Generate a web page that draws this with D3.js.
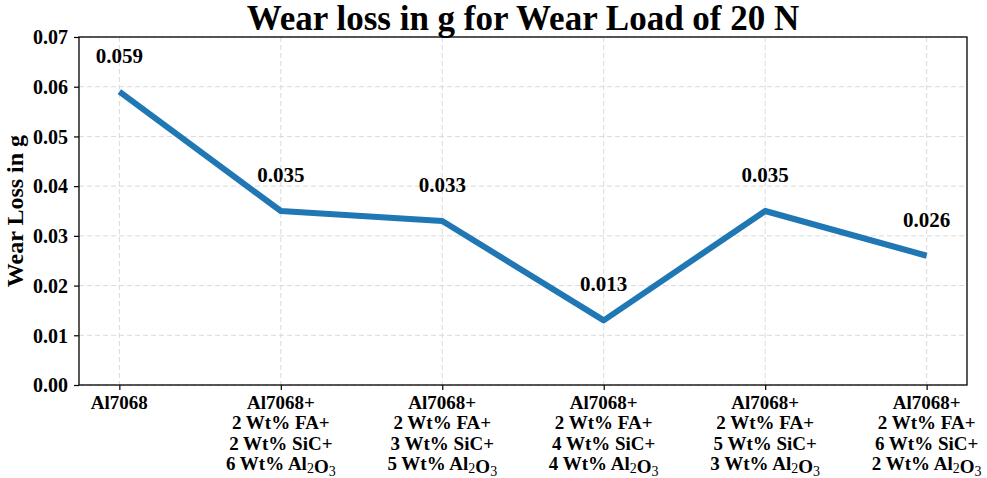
<!DOCTYPE html>
<html>
<head>
<meta charset="utf-8">
<script src="https://cdn.jsdelivr.net/npm/d3@7"></script>
<style>
  body { margin: 0; background: #fff; }
  text { font-family: 'Liberation Serif', 'Times New Roman', serif; font-weight: bold; fill: #000; }
  .grid line { stroke: #d0d0d0; stroke-dasharray: 5,3; stroke-width: 0.8; }
</style>
</head>
<body>
<svg id="chart"></svg>
<script>
// composition labels, one array of lines per sample ("_2" marks a subscript 2, "_3" a subscript 3)
var categories = [
  ["Al7068"],
  ["Al7068+", "2 Wt% FA+", "2 Wt% SiC+", "6 Wt% Al_2O_3"],
  ["Al7068+", "2 Wt% FA+", "3 Wt% SiC+", "5 Wt% Al_2O_3"],
  ["Al7068+", "2 Wt% FA+", "4 Wt% SiC+", "4 Wt% Al_2O_3"],
  ["Al7068+", "2 Wt% FA+", "5 Wt% SiC+", "3 Wt% Al_2O_3"],
  ["Al7068+", "2 Wt% FA+", "6 Wt% SiC+", "2 Wt% Al_2O_3"]
];
var wearLoss = [0.059, 0.035, 0.033, 0.013, 0.035, 0.026];
var yTicks = [0.00, 0.01, 0.02, 0.03, 0.04, 0.05, 0.06, 0.07];

var svgWidth = 987, svgHeight = 478;
var margin = { top: 37, right: 20, bottom: 93, left: 79 };
var chartWidth = svgWidth - margin.left - margin.right,
    chartHeight = svgHeight - margin.top - margin.bottom;

var svg = d3.select("#chart").attr("width", svgWidth).attr("height", svgHeight);
var g = svg.append("g").attr("transform", "translate(" + margin.left + "," + margin.top + ")");

var idx = d3.range(categories.length);
// matplotlib style 5% padding on the x range
var x = d3.scaleLinear().domain([-0.25, categories.length - 1 + 0.25]).range([0, chartWidth]);
var y = d3.scaleLinear().domain([0, 0.07]).range([chartHeight, 0]);

/* ---- grid ---- */
g.append("g").attr("class", "grid")
  .selectAll("line.v").data(idx).enter().append("line")
  .attr("x1", d => x(d)).attr("x2", d => x(d))
  .attr("y1", 0).attr("y2", chartHeight);
g.append("g").attr("class", "grid")
  .selectAll("line.h").data(yTicks).enter().append("line")
  .attr("x1", 0).attr("x2", chartWidth)
  .attr("y1", d => y(d)).attr("y2", d => y(d));

/* ---- axes ---- */
var yAxis = g.append("g")
  .call(d3.axisLeft(y).tickValues(yTicks).tickFormat(d3.format(".2f")).tickSizeInner(5).tickSizeOuter(0).tickPadding(6))
  .call(a => a.select(".domain").remove());
yAxis.selectAll("text").style("font-size", "20px").attr("dy", "0.34em");
yAxis.selectAll("line").attr("stroke", "#000").attr("stroke-width", 1.2);

var xAxis = g.append("g").attr("transform", "translate(0," + chartHeight + ")")
  .call(d3.axisBottom(x).tickValues(idx).tickFormat("").tickSizeInner(5).tickSizeOuter(0))
  .call(a => a.select(".domain").remove());
xAxis.selectAll("line").attr("stroke", "#000").attr("stroke-width", 1.2);

// multi-line category labels with subscripts
var labels = g.append("g").attr("class", "xlabels")
  .selectAll("text").data(categories).enter().append("text")
  .attr("text-anchor", "middle")
  .style("font-size", "19px")
  .attr("transform", (d, i) => "translate(" + x(i) + "," + (chartHeight + 24) + ")");

labels.each(function(lines) {
  var t = d3.select(this);
  lines.forEach(function(line, li) {
    var parts = line.split(/_(\d)/);
    var tl = t.append("tspan").attr("x", 0).attr("y", li * 20.3);
    parts.forEach(function(p, pi) {
      if (pi % 2 === 1) {
        tl.append("tspan").text(p).attr("dy", 3).style("font-size", "14px").style("font-weight", "normal");
        tl.append("tspan").attr("dy", -3).text("");
      } else {
        tl.append("tspan").text(p);
      }
    });
  });
});

/* ---- line ---- */
g.append("path")
  .datum(wearLoss)
  .attr("fill", "none")
  .attr("stroke", "#1f77b4")
  .attr("stroke-width", 6)
  .attr("stroke-linejoin", "round")
  .attr("d", d3.line().x((d, i) => x(i)).y(d => y(d)));

/* ---- value annotations ---- */
g.append("g").selectAll("text").data(wearLoss).enter().append("text")
  .attr("x", (d, i) => x(i))
  .attr("y", d => y(d) - 29)
  .attr("text-anchor", "middle")
  .style("font-size", "21px")
  .text(d => d3.format(".3f")(d));

/* ---- frame ---- */
g.append("rect")
  .attr("width", chartWidth).attr("height", chartHeight)
  .attr("fill", "none").attr("stroke", "#000").attr("stroke-width", 1.3);

/* ---- titles ---- */
svg.append("text")
  .attr("x", margin.left + chartWidth / 2).attr("y", 30)
  .attr("text-anchor", "middle")
  .style("font-size", "35px")
  .text("Wear loss in g for Wear Load of 20 N");

svg.append("text")
  .attr("transform", "translate(23," + (margin.top + chartHeight / 2) + ") rotate(-90)")
  .attr("text-anchor", "middle")
  .style("font-size", "24px")
  .text("Wear Loss in g");
</script>
</body>
</html>
